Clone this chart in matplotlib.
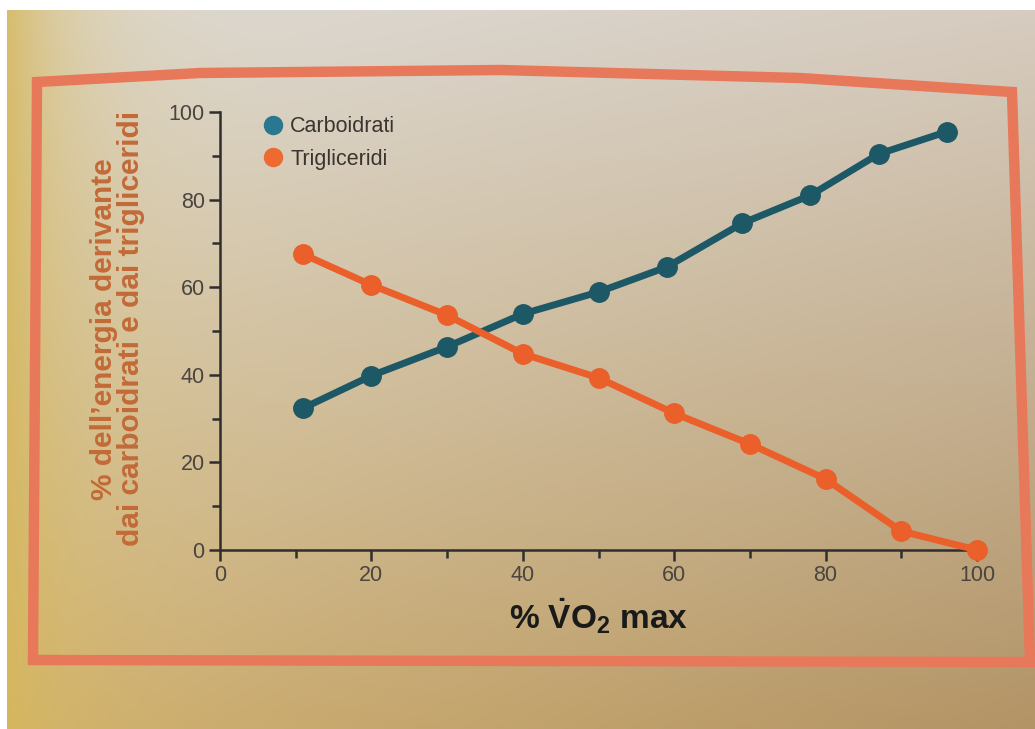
import numpy as np
import matplotlib
matplotlib.use('Agg')
import matplotlib.pyplot as plt
from matplotlib.lines import Line2D
from matplotlib.patches import Polygon

# data
vo2_carb = [11, 20, 30, 40, 50, 59, 69, 78, 87, 96]
carb = [32.4, 39.8, 46.4, 53.9, 58.9, 64.6, 74.6, 81.0, 90.4, 95.5]
vo2_trig = [11, 20, 30, 40, 50, 60, 70, 80, 90, 100]
trig = [67.5, 60.5, 53.6, 44.8, 39.3, 31.2, 24.2, 16.2, 4.3, 0.0]

series_names = ['Carboidrati', 'Trigliceridi']
x_ticks = [0, 20, 40, 60, 80, 100]
y_ticks = [0, 20, 40, 60, 80, 100]

plt.rcParams['font.family'] = ['Liberation Sans', 'DejaVu Sans']
plt.rcParams['mathtext.fontset'] = 'custom'
plt.rcParams['mathtext.rm'] = 'Liberation Sans'
plt.rcParams['mathtext.bf'] = 'Liberation Sans:bold'

W, H = 1035, 729
fig = plt.figure(figsize=(W / 100, H / 100), dpi=100)
fig.patch.set_facecolor('white')

# paper background: light grey top-left, tan bottom-right, yellow left edge
bg = fig.add_axes([7 / W, 0, 1 - 7 / W, 1 - 10 / H])
tl = np.array([0.87, 0.86, 0.84])
tr = np.array([0.84, 0.80, 0.75])
bl = np.array([0.82, 0.70, 0.45])
br = np.array([0.70, 0.58, 0.40])
u = np.linspace(0, 1, 300)[None, :, None]
v = np.linspace(0, 1, 200)[:, None, None]
grad = (1 - v) * ((1 - u) * tl + u * tr) + v * ((1 - u) * bl + u * br)
k = 0.85 * np.exp(-u / 0.07)
grad = grad * (1 - k) + k * np.array([0.84, 0.72, 0.36])
bg.imshow(np.clip(grad, 0, 1), aspect='auto', extent=[0, 1, 0, 1],
          interpolation='bicubic')
bg.set_axis_off()

# orange frame (top edge bows a little, like the photographed page)
pts = [(37, 82), (200, 73), (500, 70), (800, 78), (1012, 92),
       (1030, 662), (33, 660)]
frame = Polygon([(px / W, 1 - py / H) for px, py in pts], closed=True,
                fill=False, edgecolor='#e8785a', linewidth=7.5,
                joinstyle='miter', transform=fig.transFigure, zorder=2)
fig.patches.append(frame)

ax = fig.add_axes([220 / W, (H - 550) / H, 757 / W, 438 / H])
ax.set_facecolor('none')

carb_col = '#1d5866'
trig_col = '#ea5f2a'
ax.plot(vo2_carb, carb, color=carb_col, lw=5, marker='o', ms=14,
        clip_on=False, zorder=3)
ax.plot(vo2_trig, trig, color=trig_col, lw=5, marker='o', ms=14,
        clip_on=False, zorder=3)

ax.set_xlim(0, 100)
ax.set_ylim(0, 100)
ax.set_xticks(x_ticks)
ax.set_yticks(y_ticks)
ax.set_xticks(range(10, 100, 20), minor=True)
ax.set_yticks(range(10, 100, 20), minor=True)
ax.spines['top'].set_visible(False)
ax.spines['right'].set_visible(False)
for s in ['left', 'bottom']:
    ax.spines[s].set_color('#2e2e2e')
    ax.spines[s].set_linewidth(1.8)
ax.tick_params(which='major', length=8, width=1.8, color='#2e2e2e',
               labelsize=15.5, labelcolor='#4a4540', pad=3)
ax.tick_params(which='minor', length=6, width=1.8, color='#2e2e2e')

ax.set_xlabel(r'% $\mathbf{\dot{V}O_2}$ max', fontsize=24, fontweight='bold',
              color='#1a1a1a')
ax.xaxis.set_label_coords(0.5, -0.105)
ax.set_ylabel("% dell’energia derivante\ndai carboidrati e dai trigliceridi",
              fontsize=21.5, fontweight='bold', color='#c26a38',
              linespacing=0.95)
ax.yaxis.set_label_coords(-0.099, 0.505)

handles = [Line2D([], [], ls='none', marker='o', ms=13, color='#2a7792'),
           Line2D([], [], ls='none', marker='o', ms=13, color='#ee6a30')]
ax.legend(handles, series_names, loc='upper left', bbox_to_anchor=(0.03, 1.035),
          frameon=False, fontsize=15.5, handletextpad=0.3, labelspacing=0.55,
          labelcolor='#3a3530', handlelength=1.0)

fig.savefig('out.png', dpi=100)
